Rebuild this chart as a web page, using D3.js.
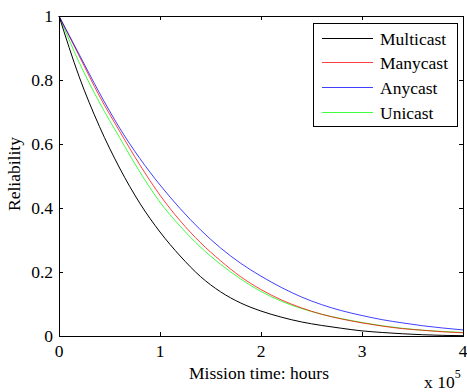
<!DOCTYPE html>
<html><head><meta charset="utf-8">
<script src="https://cdn.jsdelivr.net/npm/d3@7"></script>
<style>body{margin:0;background:#fff}svg{display:block}text{font-family:"Liberation Serif","Times New Roman",serif;fill:#000}</style>
</head><body><svg id="c" width="467" height="392"></svg>
<script>
const times = [0,0.2,0.4,0.6,0.8,1.0,1.2,1.4,1.6,1.8,2.0,2.2,2.4,2.6,2.8,3.0,3.2,3.4,3.6,3.8,4.0];
const multicast = [1,0.81,0.655,0.525,0.415,0.325,0.25,0.186,0.138,0.103,0.078,0.059,0.044,0.033,0.024,0.016,0.011,0.007,0.004,0.002,0.001];
const manycast = [1,0.875,0.75,0.64,0.535,0.44,0.36,0.292,0.235,0.185,0.145,0.113,0.088,0.068,0.053,0.041,0.031,0.023,0.018,0.013,0.01];
const anycast = [1,0.88,0.76,0.65,0.555,0.472,0.398,0.332,0.275,0.227,0.187,0.152,0.122,0.098,0.079,0.064,0.051,0.041,0.032,0.025,0.019];
const unicast = [1,0.855,0.73,0.62,0.513,0.418,0.343,0.278,0.224,0.178,0.139,0.109,0.086,0.068,0.054,0.042,0.032,0.024,0.018,0.014,0.011];
const seriesNames = ["Multicast","Manycast","Anycast","Unicast"];
const seriesValues = [multicast, manycast, anycast, unicast];
const seriesColors = ["#000000","#ff0000","#0000ff","#00ff00"];
const xTicks = [0,1,2,3,4];
const yTicks = [0,0.2,0.4,0.6,0.8,1];

const svg = d3.select("#c");
const L=59, R=463, T=16, B=336;
const x = d3.scaleLinear().domain([0,4]).range([L,R]);
const y = d3.scaleLinear().domain([0,1]).range([B,T]);
const fs = 17.5;

const line = d3.line().x((d,i)=>x(times[i])).y(d=>y(d)).curve(d3.curveMonotoneX);
const order = [3,1,2,0];
order.forEach(k=>{
  svg.append("path").attr("d", line(seriesValues[k])).attr("fill","none")
    .attr("stroke", seriesColors[k]).attr("stroke-width",1)
    .attr("stroke-opacity", k===0?1:0.75);
});

// axes box
svg.append("rect").attr("x",L+0.5).attr("y",T+0.5).attr("width",R-L).attr("height",B-T)
  .attr("fill","none").attr("stroke","#000").attr("stroke-width",1);

const tl = 4;
const g = svg.append("g").attr("stroke","#000").attr("stroke-width",1);
xTicks.forEach(t=>{
  const px = Math.round(x(t))+0.5;
  g.append("line").attr("x1",px).attr("x2",px).attr("y1",B).attr("y2",B-tl);
  g.append("line").attr("x1",px).attr("x2",px).attr("y1",T).attr("y2",T+tl);
});
yTicks.forEach(t=>{
  const py = Math.round(y(t))+0.5;
  g.append("line").attr("x1",L).attr("x2",L+tl).attr("y1",py).attr("y2",py);
  g.append("line").attr("x1",R).attr("x2",R-tl).attr("y1",py).attr("y2",py);
});

svg.append("g").selectAll("text").data(xTicks).join("text")
  .attr("x",d=>x(d)).attr("y",B+21).attr("text-anchor","middle").attr("font-size",fs)
  .text(d=>d3.format("d")(d));
svg.append("g").selectAll("text").data(yTicks).join("text")
  .attr("x",L-6).attr("y",d=>y(d)+6).attr("text-anchor","end").attr("font-size",fs)
  .text(d=>d===0||d===1?String(d):d3.format(".1f")(d));

svg.append("text").attr("x",(L+R)/2-2).attr("y",B+43).attr("text-anchor","middle").attr("font-size",fs).text("Mission time: hours");
svg.append("text").attr("transform",`translate(${20},${(T+B)/2-2}) rotate(-90)`).attr("text-anchor","middle").attr("font-size",fs).text("Reliability");
const ex = svg.append("text").attr("x",424).attr("y",388).attr("font-size",fs);
ex.append("tspan").text("x 10");
ex.append("tspan").attr("dy",-10).attr("font-size",12).text("5");

// legend
const lg = svg.append("g");
lg.append("rect").attr("x",313.5).attr("y",23.5).attr("width",144).attr("height",103)
  .attr("fill","#fff").attr("stroke","#000").attr("stroke-width",1);
const rowY = [38.5,62.5,87.5,112.5];
seriesNames.forEach((n,i)=>{
  lg.append("line").attr("x1",322).attr("x2",373).attr("y1",rowY[i]).attr("y2",rowY[i])
    .attr("stroke",seriesColors[i]).attr("stroke-opacity", i===0?1:0.75);
  lg.append("text").attr("x",380).attr("y",rowY[i]+6).attr("font-size",fs).text(n);
});
</script></body></html>
